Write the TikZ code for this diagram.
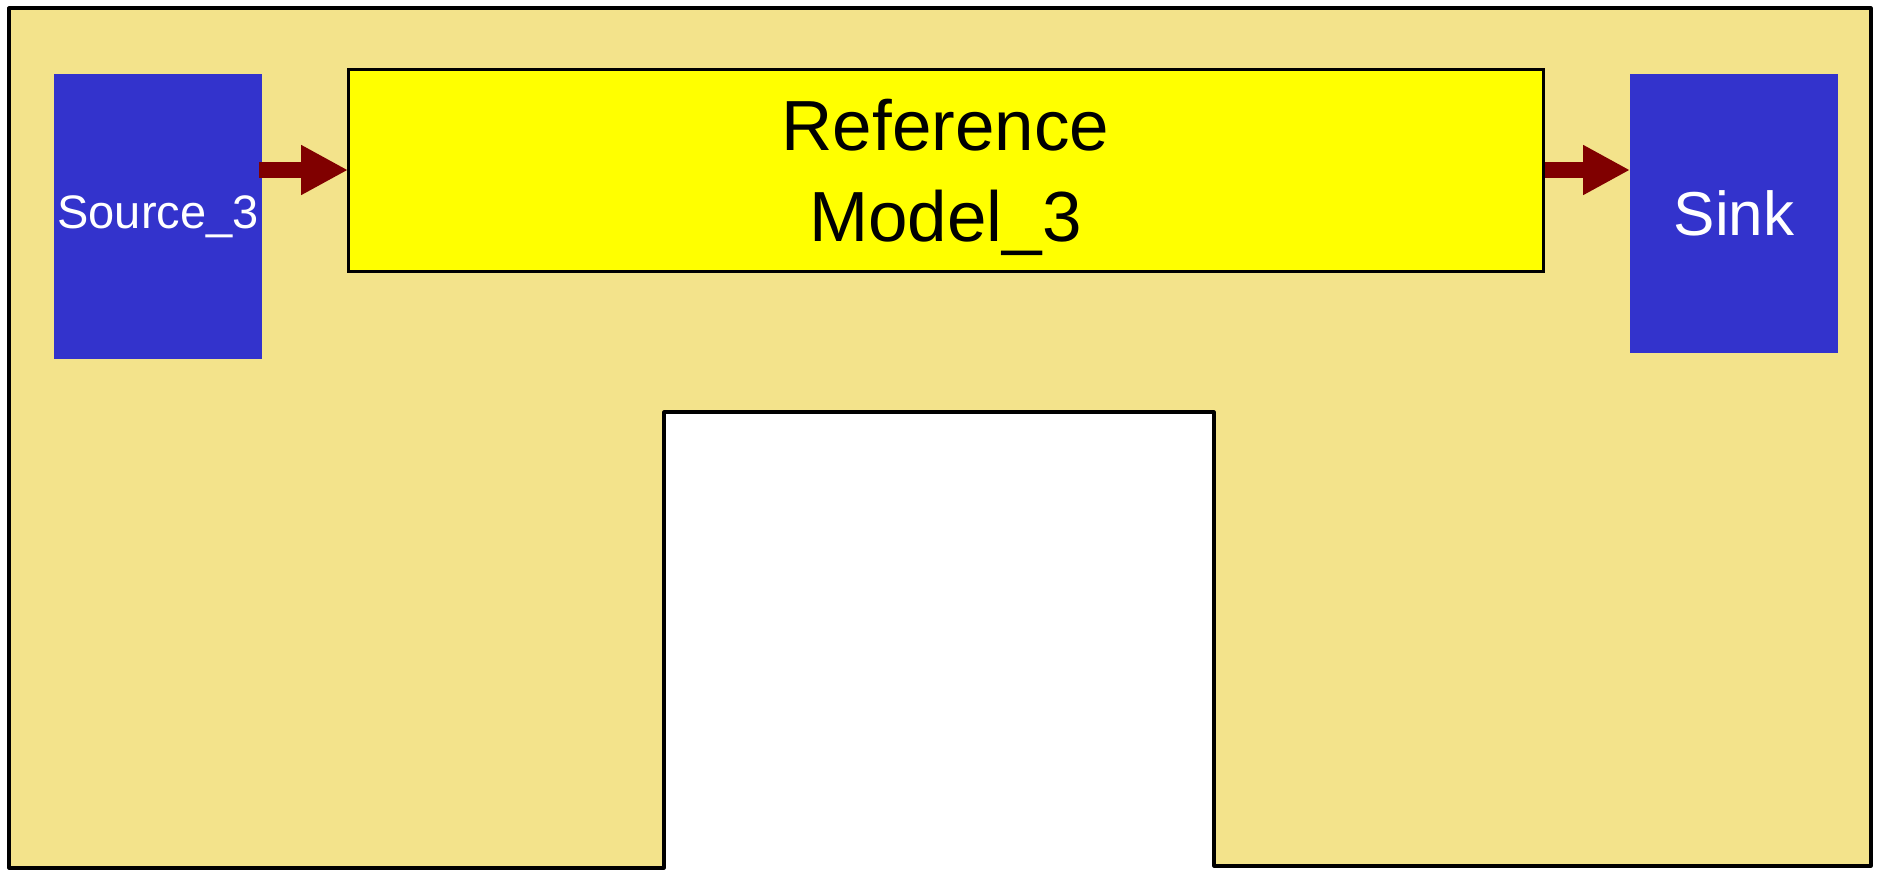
\documentclass[tikz,border=0pt]{standalone}
\usepackage{fontspec}
\setmainfont{Liberation Sans}
\usetikzlibrary{arrows.meta,calc}
\definecolor{tan}{RGB}{243,227,139}
\definecolor{blk}{RGB}{51,51,204}
\definecolor{ylw}{RGB}{255,255,0}
\definecolor{arr}{RGB}{128,0,0}
\tikzset{
  bluebox/.style={fill=blk, draw=none, inner sep=0pt, outer sep=0pt, anchor=north west, text=white, align=center},
  modelbox/.style={fill=ylw, draw=black, line width=1.5pt, inner sep=0pt, outer sep=0pt, anchor=north west, align=center},
  flow/.style={draw=arr, line width=8pt, -{Triangle[length=23.5pt,width=23.5pt]}, arr},
  outline/.style={draw=black, line width=1.6pt, line join=round, fill=tan}
}
\begin{document}
\begin{tikzpicture}[x=0.5pt,y=-0.5pt]
\useasboundingbox (0,0) rectangle (1877,869);
\draw[outline] (9,8) -- (1871,8) -- (1871,866) -- (1214,866) -- (1214,412) -- (664,412) -- (664,868) -- (9,868) -- cycle;
\node[bluebox, minimum width=104pt, minimum height=142.5pt, font=\fontsize{23.5pt}{28pt}\selectfont] (src) at (54,74) {Source\_3};
\node[modelbox, minimum width=597.5pt, minimum height=101pt, font=\fontsize{35.5pt}{45.5pt}\selectfont] (model) at (348,69) {\rule{0pt}{33pt}Reference\\Model\_3};
\node[bluebox, minimum width=104pt, minimum height=139.5pt, font=\fontsize{31pt}{36pt}\selectfont] (sink) at (1630,74) {Sink};
\draw[flow, shorten <=-1.5pt] (src.east |- model.west) -- (model.west);
\draw[flow, shorten <=1pt] (model.east) -- (sink.west |- model.east);
\end{tikzpicture}
\end{document}
